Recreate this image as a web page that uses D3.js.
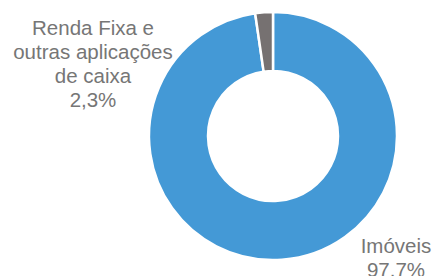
<!DOCTYPE html>
<html><head><meta charset="utf-8">
<script src="https://cdn.jsdelivr.net/npm/d3@7"></script>
<style>html,body{margin:0;padding:0;background:#fff;}svg{display:block;}</style>
</head><body>
<svg id="c" width="435" height="276"></svg>
<script>
const categories = ["Imóveis", "Renda Fixa e outras aplicações de caixa"];
const values = [97.7, 2.3];
const labelLines = [["Imóveis", "97.7%"], ["Renda Fixa e", "outras aplicações", "de caixa", "2,3%"]];
const colors = ["#4499D6", "#767171"];

const svg = d3.select("#c");
const cx = 273, cy = 136, rOuter = 124, rInner = 65;
const g = svg.append("g").attr("transform", `translate(${cx},${cy})`);
const pie = d3.pie().sort(null).value(d => d)(values);
const arc = d3.arc().innerRadius(rInner).outerRadius(rOuter);
g.selectAll("path").data(pie).join("path")
  .attr("d", arc)
  .attr("fill", (d, i) => colors[i])
  .attr("stroke", "#fff").attr("stroke-width", 2.5);

const labelPos = [[396, 253], [93, 35]];
labelLines.forEach((lines, i) => {
  const t = svg.append("text")
    .attr("x", labelPos[i][0]).attr("y", labelPos[i][1])
    .attr("text-anchor", "middle")
    .attr("font-family", "Liberation Sans, Arial, sans-serif")
    .attr("font-size", 20.5).attr("fill", "#767676");
  lines.forEach((l, j) => t.append("tspan").attr("x", labelPos[i][0]).attr("dy", j === 0 ? 0 : 24).text(l));
});
</script>
</body></html>
